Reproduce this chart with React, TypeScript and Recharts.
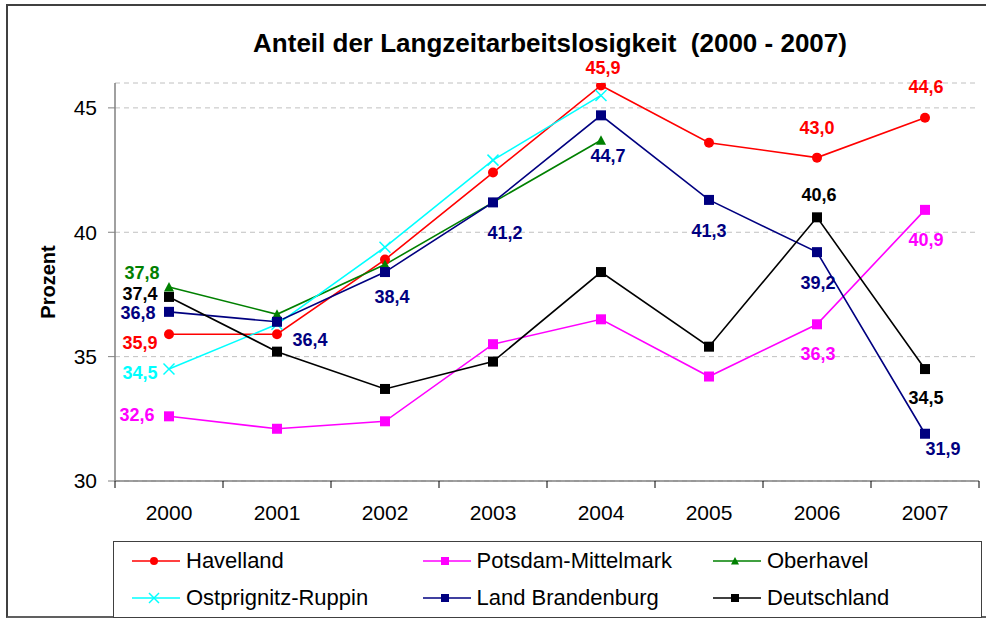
import React from 'react';
import { LineChart, Line, XAxis, YAxis, CartesianGrid, LabelList, Legend } from 'recharts';

// ---------- data ----------
const years = ['2000', '2001', '2002', '2003', '2004', '2005', '2006', '2007'];
const havelland = [35.9, 35.9, 38.9, 42.4, 45.9, 43.6, 43.0, 44.6];
const potsdamMittelmark = [32.6, 32.1, 32.4, 35.5, 36.5, 34.2, 36.3, 40.9];
const oberhavel = [37.8, 36.7, 38.7, 41.2, 43.7, null, null, null];
const ostprignitzRuppin = [34.5, 36.3, 39.4, 42.9, 45.5, null, null, null];
const landBrandenburg = [36.8, 36.4, 38.4, 41.2, 44.7, 41.3, 39.2, 31.9];
const deutschland = [37.4, 35.2, 33.7, 34.8, 38.4, 35.4, 40.6, 34.5];
const yTicks = [30, 35, 40, 45];
const yDomain: [number, number] = [30, 46];

const titleText = 'Anteil der Langzeitarbeitslosigkeit  (2000 - 2007)';
const yAxisTitle = 'Prozent';

// ---------- styles ----------
const FONT = '"Liberation Sans", Arial, Helvetica, sans-serif';
const AXIS_COLOR = '#808080';
const GRID_COLOR = '#c0c0c0';
const X_TICK_SIZE = 7;
const X_TICK_MARGIN = 17;

type Shape = 'circle' | 'square' | 'triangle' | 'cross';

const series: { key: string; name: string; color: string; shape: Shape; values: (number | null)[] }[] = [
  { key: 'havelland', name: 'Havelland', color: '#FF0000', shape: 'circle', values: havelland },
  { key: 'potsdamMittelmark', name: 'Potsdam-Mittelmark', color: '#FF00FF', shape: 'square', values: potsdamMittelmark },
  { key: 'oberhavel', name: 'Oberhavel', color: '#008000', shape: 'triangle', values: oberhavel },
  { key: 'ostprignitzRuppin', name: 'Ostprignitz-Ruppin', color: '#00FFFF', shape: 'cross', values: ostprignitzRuppin },
  { key: 'landBrandenburg', name: 'Land Brandenburg', color: '#000080', shape: 'square', values: landBrandenburg },
  { key: 'deutschland', name: 'Deutschland', color: '#000000', shape: 'square', values: deutschland },
];

// label placement (text centre offset from point), null = no label
const labelOffsets: Record<string, ([number, number] | null)[]> = {
  havelland: [[-29, 8], null, null, null, [2, -18], null, [0, -30], [1, -31]],
  potsdamMittelmark: [[-32, -2], null, null, null, null, null, [1, 29], [1, 30]],
  oberhavel: [[-27, -14], null, null, null, null, null, null, null],
  ostprignitzRuppin: [[-29, 4], null, null, null, null, null, null, null],
  landBrandenburg: [[-31, 1], [33, 18], [7, 25], [12, 30], [7, 40], [0, 31], [1, 31], [18, 15]],
  deutschland: [[-29, -3], null, null, null, null, null, [2, -23], [1, 29]],
};

const data = years.map((year, i) => {
  const row: Record<string, any> = { year };
  series.forEach((s) => {
    row[s.key] = s.values[i];
  });
  return row;
});

const fmt = (v: number) => v.toFixed(1).replace('.', ',');

function MarkerShape({ shape, cx, cy, color, size }: { shape: Shape; cx: number; cy: number; color: string; size: number }) {
  const h = size / 2;
  switch (shape) {
    case 'circle':
      return <circle cx={cx} cy={cy} r={h} fill={color} />;
    case 'square':
      return <rect x={cx - h} y={cy - h} width={size} height={size} fill={color} />;
    case 'triangle':
      return <polygon points={`${cx},${cy - h} ${cx + h},${cy + h * 0.9} ${cx - h},${cy + h * 0.9}`} fill={color} />;
    case 'cross':
    default:
      return (
        <g stroke={color} strokeWidth={1.5}>
          <line x1={cx - h} y1={cy - h} x2={cx + h} y2={cy + h} />
          <line x1={cx - h} y1={cy + h} x2={cx + h} y2={cy - h} />
        </g>
      );
  }
}

const XTick = (props: any) => {
  const { x, y, payload, index, visibleTicksCount } = props;
  const half = payload && typeof payload.offset === 'number' ? payload.offset : 0;
  const axisY = y - X_TICK_SIZE - X_TICK_MARGIN;
  const isLast = index === visibleTicksCount - 1;
  return (
    <g>
      <line x1={x - half} x2={x - half} y1={axisY} y2={axisY + X_TICK_SIZE} stroke="#000" strokeWidth={1} />
      {isLast && <line x1={x + half} x2={x + half} y1={axisY} y2={axisY + X_TICK_SIZE} stroke="#000" strokeWidth={1} />}
      <text x={x} y={y} dy="0.71em" textAnchor="middle" fontSize={21} fontFamily={FONT} fill="#000">
        {payload.value}
      </text>
    </g>
  );
};

const renderYLabel = (props: any) => {
  const vb = props.viewBox || { x: 0, y: 0, width: 0, height: 0 };
  const cx = vb.x + 55;
  const cy = vb.y + vb.height / 2;
  return (
    <text x={cx} y={cy} transform={`rotate(-90 ${cx} ${cy})`} textAnchor="middle" fontSize={20} fontWeight="bold" fontFamily={FONT} fill="#000">
      {yAxisTitle}
    </text>
  );
};

const renderLegend = () => (
  <div
    style={{
      position: 'relative',
      width: 869,
      height: 77,
      border: '1px solid #404040',
      boxSizing: 'border-box',
      background: '#fff',
      fontFamily: FONT,
      fontSize: 22,
      color: '#000',
    }}
  >
    {series.map((s, i) => {
      const col = i % 3;
      const row = Math.floor(i / 3);
      return (
        <div
          key={s.key}
          style={{
            position: 'absolute',
            left: 18 + col * 290.5,
            top: row * 37,
            height: 37,
            display: 'flex',
            alignItems: 'center',
            whiteSpace: 'nowrap',
          }}
        >
          <svg width={48} height={16} style={{ display: 'block' }}>
            <line x1={0} x2={48} y1={8} y2={8} stroke={s.color} strokeWidth={1.6} />
            <MarkerShape shape={s.shape} cx={22} cy={8} color={s.color} size={s.shape === 'cross' ? 10 : 8} />
          </svg>
          <span style={{ marginLeft: 6, lineHeight: '37px' }}>{s.name}</span>
        </div>
      );
    })}
  </div>
);

const verticalGen = ({ xAxis }: any) => {
  const scale = xAxis && xAxis.scale;
  if (typeof scale !== 'function') return [];
  return years.slice(1).map((yr) => scale(yr));
};

export default function App() {
  return (
    <div style={{ position: 'absolute', left: 0, top: 0, width: 986, height: 623, background: '#fff', overflow: 'hidden' }}>
      <div
        style={{
          position: 'absolute',
          left: 6,
          top: 4,
          width: 1000,
          height: 614,
          borderTop: '2px solid #404040',
          borderLeft: '2px solid #404040',
          borderBottom: '2px solid #606060',
          boxSizing: 'border-box',
        }}
      />
      <div style={{ position: 'absolute', left: 0, top: 0, width: 986, height: 623 }}>
        <LineChart width={986} height={623} data={data} margin={{ top: 83, right: 7, bottom: 102, left: 0 }}>
          <CartesianGrid stroke={GRID_COLOR} strokeDasharray="5 4" verticalCoordinatesGenerator={verticalGen} />
          <XAxis
            dataKey="year"
            scale="band"
            height={40}
            interval={0}
            tickLine={false}
            tickSize={X_TICK_SIZE}
            tickMargin={X_TICK_MARGIN}
            axisLine={{ stroke: AXIS_COLOR, strokeWidth: 1.5 }}
            tick={<XTick />}
          />
          <YAxis
            domain={yDomain}
            ticks={yTicks}
            width={115}
            allowDataOverflow
            tickSize={7}
            tickMargin={11}
            axisLine={{ stroke: AXIS_COLOR, strokeWidth: 1.5 }}
            tickLine={{ stroke: AXIS_COLOR }}
            tick={{ fontSize: 21, fill: '#000', fontFamily: FONT }}
            label={renderYLabel}
          />
          {series.map((s) => (
            <Line
              key={s.key}
              dataKey={s.key}
              name={s.name}
              type="linear"
              stroke={s.color}
              strokeWidth={1.6}
              isAnimationActive={false}
              connectNulls={false}
              activeDot={false}
              dot={(p: any) => {
                if (p.value == null || p.cy == null || p.cx == null) return <g key={`d-${s.key}-${p.index}`} />;
                return (
                  <g key={`d-${s.key}-${p.index}`}>
                    <MarkerShape shape={s.shape} cx={p.cx} cy={p.cy} color={s.color} size={s.shape === 'cross' ? 11 : 10} />
                  </g>
                );
              }}
            >
              <LabelList
                dataKey={s.key}
                content={(lp: any) => {
                  const { x, y, value, index } = lp;
                  const off = labelOffsets[s.key][index];
                  if (!off || value == null || x == null || y == null) return null;
                  return (
                    <text
                      x={x + off[0]}
                      y={y + off[1]}
                      dy="0.35em"
                      textAnchor="middle"
                      fontSize={18}
                      fontWeight="bold"
                      fontFamily={FONT}
                      fill={s.color}
                    >
                      {fmt(Number(value))}
                    </text>
                  );
                }}
              />
            </Line>
          ))}
          <Legend
            layout="horizontal"
            verticalAlign="middle"
            align="center"
            wrapperStyle={{ left: 113, top: 541, width: 869, height: 77 }}
            content={renderLegend}
          />
        </LineChart>
      </div>
      <div
        style={{
          position: 'absolute',
          left: 0,
          top: 28,
          width: 1100,
          textAlign: 'center',
          fontFamily: FONT,
          fontSize: 26,
          fontWeight: 'bold',
          lineHeight: '30px',
          whiteSpace: 'pre',
          color: '#000',
        }}
      >
        {titleText}
      </div>
    </div>
  );
}
